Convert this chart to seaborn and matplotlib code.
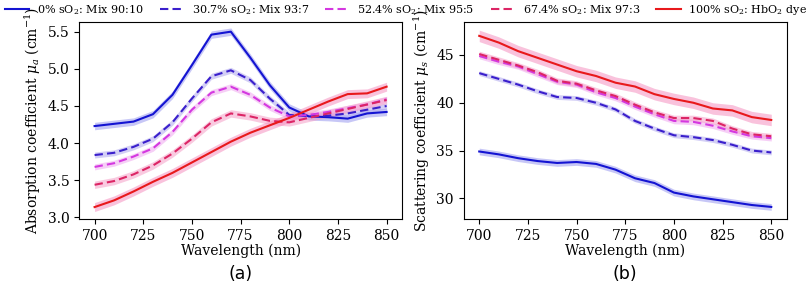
import numpy as np
import pandas as pd
import matplotlib
matplotlib.use("Agg")
import matplotlib.pyplot as plt
import seaborn as sns

wavelength = [700, 710, 720, 730, 740, 750, 760, 770, 780, 790, 800, 810, 820, 830, 840, 850]

series_labels = [
    "0% sO$_2$: Mix 90:10",
    "30.7% sO$_2$: Mix 93:7",
    "52.4% sO$_2$: Mix 95:5",
    "67.4% sO$_2$: Mix 97:3",
    "100% sO$_2$: HbO$_2$ dye",
]

mua_0 = [4.23, 4.26, 4.29, 4.39, 4.65, 5.05, 5.46, 5.50, 5.15, 4.78, 4.48, 4.36, 4.35, 4.33, 4.40, 4.42]
mua_307 = [3.84, 3.87, 3.95, 4.06, 4.28, 4.60, 4.90, 4.98, 4.85, 4.60, 4.38, 4.36, 4.37, 4.40, 4.45, 4.50]
mua_524 = [3.68, 3.73, 3.82, 3.93, 4.15, 4.45, 4.68, 4.76, 4.65, 4.48, 4.36, 4.38, 4.42, 4.47, 4.52, 4.59]
mua_674 = [3.44, 3.49, 3.58, 3.70, 3.86, 4.06, 4.28, 4.40, 4.36, 4.30, 4.28, 4.34, 4.40, 4.46, 4.52, 4.58]
mua_100 = [3.14, 3.23, 3.35, 3.48, 3.60, 3.74, 3.88, 4.02, 4.14, 4.24, 4.34, 4.45, 4.56, 4.66, 4.67, 4.76]

mus_0 = [34.9, 34.6, 34.2, 33.9, 33.7, 33.8, 33.6, 33.0, 32.1, 31.6, 30.6, 30.2, 29.9, 29.6, 29.3, 29.1]
mus_307 = [43.1, 42.5, 41.9, 41.2, 40.6, 40.5, 40.0, 39.3, 38.1, 37.3, 36.6, 36.4, 36.1, 35.6, 35.0, 34.8]
mus_524 = [44.9, 44.3, 43.8, 43.0, 42.2, 41.9, 41.1, 40.5, 39.6, 38.8, 38.1, 38.0, 37.6, 37.0, 36.5, 36.3]
mus_674 = [45.1, 44.5, 43.9, 43.2, 42.3, 42.0, 41.3, 40.7, 39.8, 39.0, 38.4, 38.4, 38.1, 37.3, 36.7, 36.5]
mus_100 = [47.0, 46.3, 45.4, 44.7, 44.0, 43.3, 42.8, 42.1, 41.7, 40.9, 40.4, 40.0, 39.4, 39.2, 38.5, 38.2]

# half-width of the shaded bands per series
mua_err = [0.05, 0.04, 0.04, 0.05, 0.06]
mus_err = [0.35, 0.25, 0.3, 0.3, 0.6]

colors = ["#1414d2", "#3a1fcc", "#d438e0", "#dc2565", "#e8191c"]
band_colors = ["#9a9af0", "#b0a8ee", "#f0a8f0", "#f5a0c8", "#f590c0"]
dashed = [False, True, True, True, False]

mua = [mua_0, mua_307, mua_524, mua_674, mua_100]
mus = [mus_0, mus_307, mus_524, mus_674, mus_100]

rows = []
for lab, a, s in zip(series_labels, mua, mus):
    for w, va, vs in zip(wavelength, a, s):
        rows.append({"wavelength": w, "mua": va, "mus": vs, "series": lab})
df = pd.DataFrame(rows)

plt.rcParams["font.family"] = ["DejaVu Serif"]
plt.rcParams["mathtext.fontset"] = "dejavuserif"
plt.rcParams["font.size"] = 10

fig = plt.figure(figsize=(8.12, 2.84), dpi=100)
ax1 = fig.add_axes([0.0973, 0.229, 0.398, 0.6935])
ax2 = fig.add_axes([0.571, 0.229, 0.398, 0.6935])

palette = dict(zip(series_labels, colors))
dash_map = {lab: ((4, 2) if d else "") for lab, d in zip(series_labels, dashed)}

for ax, col, errs in [(ax1, "mua", mua_err), (ax2, "mus", mus_err)]:
    for lab, e, bc in zip(series_labels, errs, band_colors):
        sub = df[df["series"] == lab]
        ax.fill_between(sub["wavelength"], sub[col] - e, sub[col] + e,
                        color=bc, alpha=0.55, linewidth=0)
    sns.lineplot(data=df, x="wavelength", y=col, hue="series", style="series",
                 palette=palette, dashes=dash_map, linewidth=1.5, ax=ax,
                 legend=(ax is ax1))

handles, labels = ax1.get_legend_handles_labels()
ax1.get_legend().remove()
fig.legend(handles, labels, loc="upper center", ncol=5, frameon=False,
           bbox_to_anchor=(0.5, 1.0), fontsize=8.0, columnspacing=1.45,
           handlelength=2.2, handletextpad=0.7, borderaxespad=0.0,
           borderpad=0.25)

ax1.set_xlim(692, 858)
ax1.set_ylim(2.98, 5.63)
ax1.set_yticks([3.0, 3.5, 4.0, 4.5, 5.0, 5.5])
ax1.set_ylabel("Absorption coefficient $\\mu_a$ (cm$^{-1}$)", labelpad=3)
ax2.set_xlim(692, 858)
ax2.set_ylim(27.84, 48.45)
ax2.set_yticks([30, 35, 40, 45])
ax2.set_ylabel("Scattering coefficient $\\mu_s$ (cm$^{-1}$)", labelpad=3)

for ax, tag in [(ax1, "(a)"), (ax2, "(b)")]:
    ax.set_xticks([700, 725, 750, 775, 800, 825, 850])
    ax.set_xlabel("Wavelength (nm)", labelpad=1)
    ax.text(0.5, -0.235, tag, transform=ax.transAxes, ha="center", va="top",
            fontsize=12.5, family="DejaVu Sans")

fig.savefig("out.png", dpi=100)
